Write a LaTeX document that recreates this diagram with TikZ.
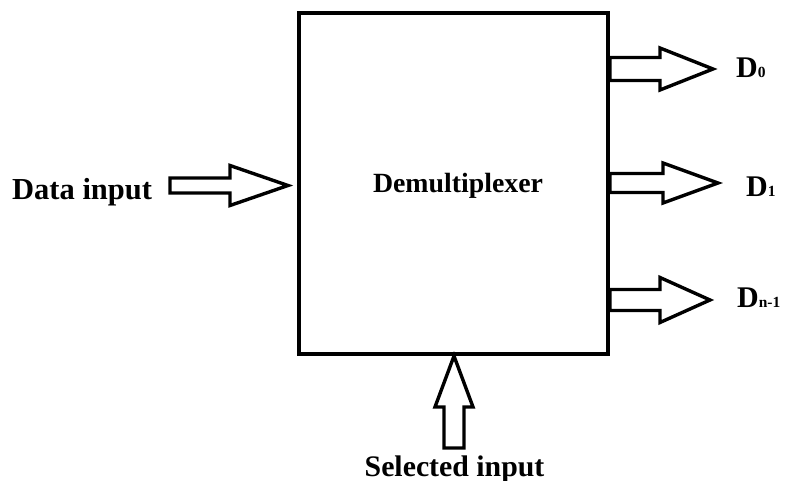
\documentclass[tikz,border=0pt]{standalone}
\usepackage{fontspec}
\setmainfont{Liberation Serif}
\usetikzlibrary{calc}
\newcommand\fatarrow[5]{%
  \coordinate (fa-b) at ($(#2)!#3pt!(#1)$);
  \draw[arrowline] ($(#1)!#4pt!90:(#2)$) -- ($(fa-b)!#4pt!-90:(#1)$)
    -- ($(fa-b)!#5pt!-90:(#1)$) -- (#2) -- ($(fa-b)!#5pt!90:(#1)$)
    -- ($(fa-b)!#4pt!90:(#1)$) -- ($(#1)!#4pt!-90:(#2)$) -- cycle;}
\tikzset{
  arrowline/.style={draw=black, line width=3.4pt, line join=miter, fill=white},
  boxline/.style={draw=black, line width=4pt},
  lbl/.style={inner sep=0pt, font=\bfseries\fontsize{30}{32}\selectfont},
}
\newcommand\subfnt{\fontsize{15.5}{16}\selectfont}
\begin{document}
\begin{tikzpicture}[x=1pt,y=-1pt]
\useasboundingbox (0,0) rectangle (788,481);
% main box
\node[boxline, minimum width=309pt, minimum height=340.5pt, inner sep=0pt] (box) at (453.5,183.75) {};
\node[lbl, anchor=base, font=\bfseries\fontsize{27.8}{30}\selectfont] (demux) at (458,193) {Demultiplexer};
% data input
\node[lbl, anchor=base west, font=\bfseries\fontsize{30.5}{32}\selectfont] (din) at (12,200) {Data input};
\coordinate (dins) at (170,185.5);
\coordinate (dint) at (288,185.5);
\fatarrow{dins}{dint}{58}{7.5}{20}
% outputs
\coordinate (o0s) at (box.east |- 0,69);
\coordinate (o0t) at (713,69);
\fatarrow{o0s}{o0t}{53}{11.5}{21}
\coordinate (o1s) at (box.east |- 0,183);
\coordinate (o1t) at (718,183);
\fatarrow{o1s}{o1t}{55}{9.5}{20}
\coordinate (o2s) at (box.east |- 0,300);
\coordinate (o2t) at (710,300);
\fatarrow{o2s}{o2t}{50}{10.5}{22.5}
\node[lbl, anchor=base west] (d0) at (736,78) {D{\subfnt 0}};
\node[lbl, anchor=base west] (d1) at (746,197) {D{\subfnt 1}};
\node[lbl, anchor=base west] (dn) at (737,308) {D{\subfnt n-1}};
% select input
\coordinate (sels) at (454,448);
\coordinate (selt) at (box.south -| 454,0);
\fatarrow{sels}{selt}{51}{10}{19}
\node[lbl, anchor=base, font=\bfseries\fontsize{29.8}{32}\selectfont] (sel) at (454.5,476) {Selected input};
\end{tikzpicture}
\end{document}
